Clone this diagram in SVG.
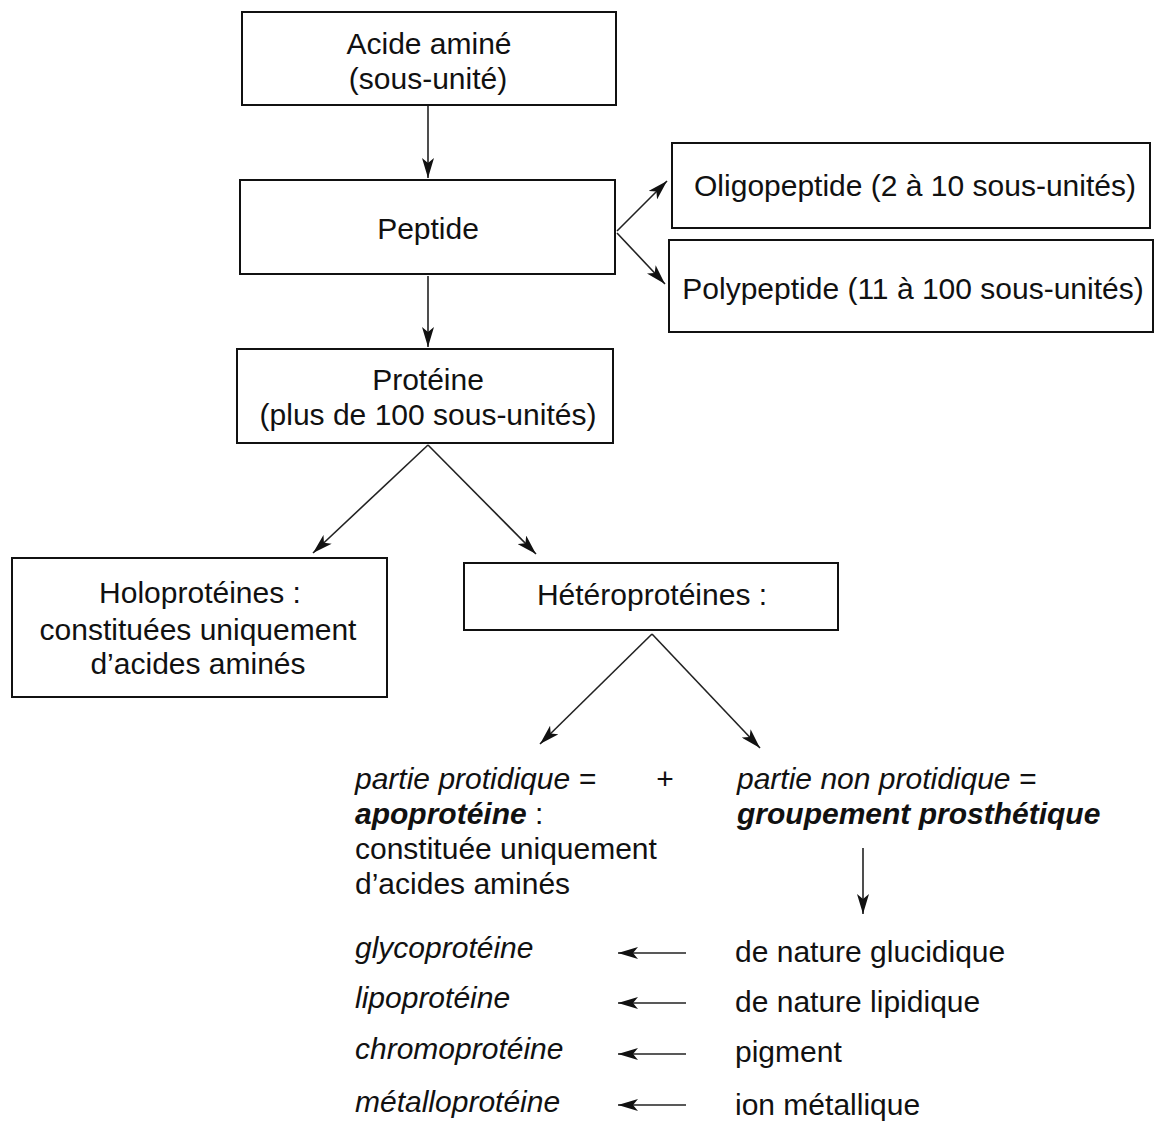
<svg xmlns="http://www.w3.org/2000/svg" width="1157" height="1121" viewBox="0 0 1157 1121">
<style>
.box{fill:#fff;stroke:#111;stroke-width:2}
text{font-family:"Liberation Sans",Arial,sans-serif;font-size:30px;fill:#111}
.c{text-anchor:middle}
.i{font-style:italic}
.b{font-weight:bold;font-style:italic}
.ln{stroke:#222;stroke-width:1.6;fill:none}
</style>
<defs>
<marker id="ah" viewBox="0 0 20 12" refX="20" refY="6" markerWidth="20" markerHeight="12" markerUnits="userSpaceOnUse" orient="auto">
<path d="M0,0 L20,6 L0,12 L5,6 Z" fill="#111"/>
</marker>
</defs>
<rect width="1157" height="1121" fill="#fff"/>
<g id="connectors">
<line class="ln" x1="428" y1="106" x2="428" y2="178" marker-end="url(#ah)"/>
<line class="ln" x1="428" y1="276" x2="428" y2="347" marker-end="url(#ah)"/>
<line class="ln" x1="617" y1="231" x2="667" y2="181" marker-end="url(#ah)"/>
<line class="ln" x1="617" y1="233" x2="665" y2="284" marker-end="url(#ah)"/>
<line class="ln" x1="428" y1="445" x2="313" y2="553" marker-end="url(#ah)"/>
<line class="ln" x1="428" y1="445" x2="536" y2="554" marker-end="url(#ah)"/>
<line class="ln" x1="652" y1="634" x2="540" y2="744" marker-end="url(#ah)"/>
<line class="ln" x1="652" y1="634" x2="760" y2="748" marker-end="url(#ah)"/>
<line class="ln" x1="863" y1="848" x2="863" y2="914" marker-end="url(#ah)"/>
<line class="ln" x1="686" y1="953" x2="618" y2="953" marker-end="url(#ah)"/>
<line class="ln" x1="686" y1="1003" x2="618" y2="1003" marker-end="url(#ah)"/>
<line class="ln" x1="686" y1="1054" x2="618" y2="1054" marker-end="url(#ah)"/>
<line class="ln" x1="686" y1="1105" x2="618" y2="1105" marker-end="url(#ah)"/>
</g>
<g id="acide">
<rect class="box" x="242" y="12" width="374" height="93"/>
<text class="c" x="429" y="54">Acide aminé</text>
<text class="c" x="428" y="89">(sous-unité)</text>
</g>
<g id="peptide">
<rect class="box" x="240" y="180" width="375" height="94"/>
<text class="c" x="428" y="239">Peptide</text>
</g>
<g id="oligo">
<rect class="box" x="672" y="143" width="478" height="85"/>
<text class="c" x="915" y="196">Oligopeptide (2 à 10 sous-unités)</text>
</g>
<g id="poly">
<rect class="box" x="669" y="240" width="484" height="92"/>
<text class="c" x="913" y="299">Polypeptide (11 à 100 sous-unités)</text>
</g>
<g id="proteine">
<rect class="box" x="237" y="349" width="376" height="94"/>
<text class="c" x="428" y="390">Protéine</text>
<text class="c" x="428" y="425">(plus de 100 sous-unités)</text>
</g>
<g id="holo">
<rect class="box" x="12" y="558" width="375" height="139"/>
<text class="c" x="200" y="603">Holoprotéines :</text>
<text class="c" x="198" y="640">constituées uniquement</text>
<text class="c" x="198" y="674">d’acides aminés</text>
</g>
<g id="hetero">
<rect class="box" x="464" y="563" width="374" height="67"/>
<text class="c" x="652" y="605">Hétéroprotéines :</text>
</g>
<g id="apo">
<text class="i" x="355" y="789">partie protidique =</text>
<text x="355" y="824"><tspan class="b">apoprotéine</tspan> :</text>
<text x="355" y="859">constituée uniquement</text>
<text x="355" y="894">d’acides aminés</text>
</g>
<g id="plus">
<text class="c" x="665" y="789">+</text>
</g>
<g id="prosth">
<text class="i" x="737" y="789">partie non protidique =</text>
<text class="b" x="737" y="824">groupement prosthétique</text>
</g>
<g id="types">
<text class="i" x="355" y="958">glycoprotéine</text>
<text class="i" x="355" y="1008">lipoprotéine</text>
<text class="i" x="355" y="1059">chromoprotéine</text>
<text class="i" x="355" y="1112">métalloprotéine</text>
</g>
<g id="natures">
<text x="735" y="962">de nature glucidique</text>
<text x="735" y="1012">de nature lipidique</text>
<text x="735" y="1062">pigment</text>
<text x="735" y="1115">ion métallique</text>
</g>
</svg>
